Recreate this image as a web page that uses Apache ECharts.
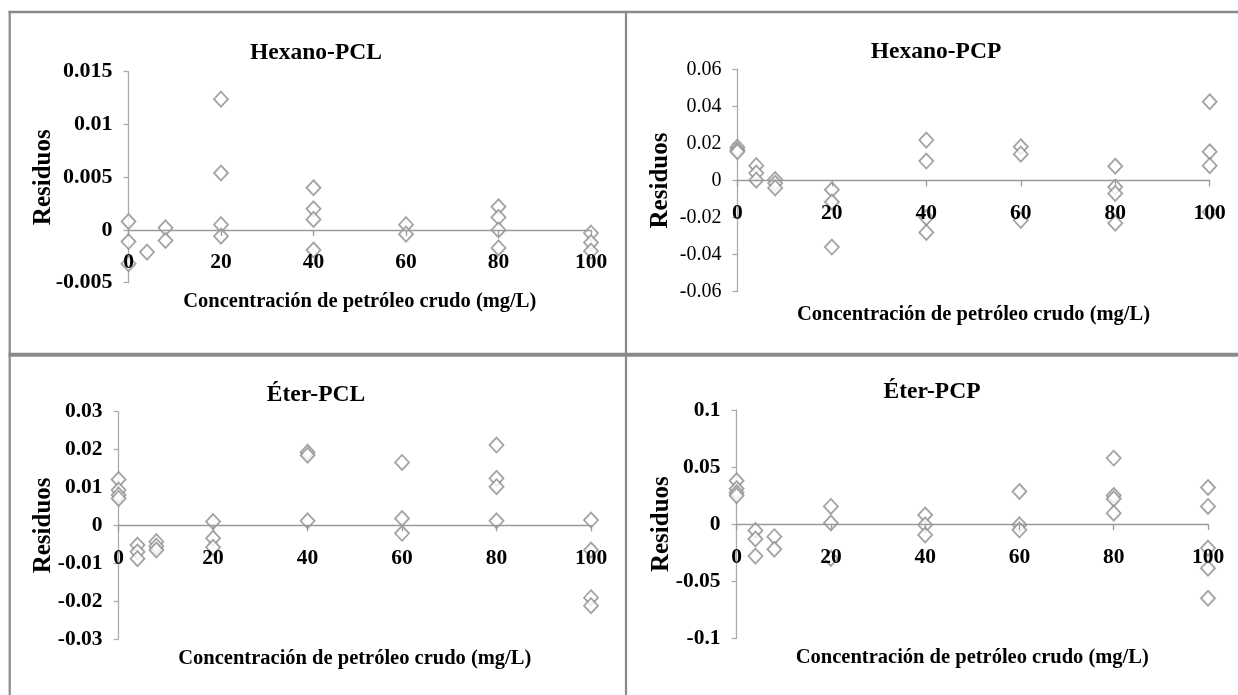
<!DOCTYPE html>
<html>
<head>
<meta charset="utf-8">
<title>Residuos</title>
<script src="https://cdn.jsdelivr.net/npm/echarts@6/dist/echarts.min.js"></script>
<style>
  html, body { margin: 0; padding: 0; background: #fff; }
  #chart { width: 1238px; height: 695px; }
</style>
</head>
<body>
<div id="chart"></div>
<script>
// Residuals [concentration (mg/L), residual] for each extraction / calibration pair
const hexanoPCL = [
  [0, 0.0008], [0, -0.0011], [0, -0.0032],
  [4, -0.0021],
  [8, 0.0002], [8, -0.001],
  [20, 0.0124], [20, 0.0054], [20, 0.0005], [20, -0.0006],
  [40, 0.004], [40, 0.002], [40, 0.001], [40, -0.0019],
  [60, 0.0005], [60, -0.0004],
  [80, 0.0022], [80, 0.0012], [80, 0.0], [80, -0.0017],
  [100, -0.0003], [100, -0.0012], [100, -0.002]
];
const hexanoPCP = [
  [0, 0.018], [0, 0.0165], [0, 0.0155],
  [4, 0.008], [4, 0.004], [4, 0.0002],
  [8, 0.0005], [8, -0.0015], [8, -0.004],
  [20, -0.005], [20, -0.0116], [20, -0.0359],
  [40, 0.0218], [40, 0.0105], [40, -0.02], [40, -0.028],
  [60, 0.0182], [60, 0.0142], [60, -0.0215],
  [80, 0.0077], [80, -0.0035], [80, -0.007], [80, -0.023],
  [100, 0.0425], [100, 0.0155], [100, 0.008], [100, -0.017]
];
const eterPCL = [
  [0, 0.0121], [0, 0.0093], [0, 0.008], [0, 0.0071],
  [4, -0.0052], [4, -0.007], [4, -0.0088],
  [8, -0.0043], [8, -0.0055], [8, -0.0065],
  [20, 0.001], [20, -0.0034], [20, -0.0058],
  [40, 0.0193], [40, 0.0185], [40, 0.0012],
  [60, 0.0166], [60, 0.0018], [60, -0.0021],
  [80, 0.0212], [80, 0.0124], [80, 0.0102], [80, 0.0012],
  [100, 0.0014], [100, -0.0065], [100, -0.0191], [100, -0.0212]
];
const eterPCP = [
  [0, 0.038], [0, 0.031], [0, 0.0275], [0, 0.025],
  [4, -0.0055], [4, -0.013], [4, -0.028],
  [8, -0.011], [8, -0.022],
  [20, 0.0155], [20, 0.001], [20, -0.03],
  [40, 0.008], [40, -0.0006], [40, -0.0094],
  [60, 0.0286], [60, -0.0006], [60, -0.005],
  [80, 0.0579], [80, 0.0251], [80, 0.0222], [80, 0.0096],
  [100, 0.0321], [100, 0.0155], [100, -0.021], [100, -0.0386], [100, -0.0649]
];

const panelTitles = ['Hexano-PCL', 'Hexano-PCP', 'Éter-PCL', 'Éter-PCP'];
const panelData = [hexanoPCL, hexanoPCP, eterPCL, eterPCP];
// y-axis ranges: [min, max, interval]
const yRanges = [[-0.005, 0.015, 0.005], [-0.06, 0.06, 0.02], [-0.03, 0.03, 0.01], [-0.1, 0.1, 0.05]];
const xRange = [0, 100, 20];
const xName = 'Concentración de petróleo crudo (mg/L)';
const yName = 'Residuos';

// Layout and styling of each panel
const FONT = '"Liberation Serif", "Times New Roman", serif';
const layout = [
  { grid: { left: 128.5, top: 71.7, width: 462.5, height: 211 }, title: [316, 53], yLabelSize: 22, yLabelWeight: 'bold', xNameGap: 61, yNameGap: 72.5 },
  { grid: { left: 737.4, top: 69.3, width: 472.3, height: 222.4 }, title: [936, 52], yLabelSize: 20, yLabelWeight: 'normal', xNameGap: 124, yNameGap: 64 },
  { grid: { left: 118.6, top: 411.7, width: 472.4, height: 227.3 }, title: [316, 395], yLabelSize: 21.5, yLabelWeight: 'bold', xNameGap: 122.5, yNameGap: 62.5 },
  { grid: { left: 736.6, top: 410, width: 471.4, height: 228.3 }, title: [932, 391.7], yLabelSize: 21.5, yLabelWeight: 'bold', xNameGap: 123.5, yNameGap: 62.5 }
];

const AXIS_X = '#9a9a9a';
const AXIS_Y = '#ababab';
const FRAME = '#8a8a8a';

const grids = [], xAxes = [], yAxes = [], series = [], titles = [];
layout.forEach((p, i) => {
  const [yMin, yMax, yStep] = yRanges[i];
  // the horizontal axis runs along residual = 0, so lift it from the grid bottom
  const zeroLift = p.grid.height * (0 - yMin) / (yMax - yMin);
  grids.push(Object.assign({ outerBoundsMode: 'none', containLabel: false }, p.grid));
  titles.push({
    text: panelTitles[i],
    left: p.title[0], top: p.title[1],
    textAlign: 'center', textVerticalAlign: 'middle',
    padding: 0,
    textStyle: { fontFamily: FONT, fontSize: 23.5, fontWeight: 'bold', color: '#000' }
  });
  xAxes.push({
    gridIndex: i, type: 'value', position: 'bottom',
    offset: -zeroLift,
    min: xRange[0], max: xRange[1], interval: xRange[2],
    z: 5,
    axisLine: { show: true, onZero: false, lineStyle: { color: AXIS_X, width: 1.3 } },
    axisTick: { show: true, length: 6, lineStyle: { color: AXIS_X, width: 1.3 } },
    axisLabel: { margin: 22, fontFamily: FONT, fontSize: 21.5, fontWeight: 'bold', color: '#000' },
    splitLine: { show: false },
    name: xName, nameLocation: 'middle', nameGap: p.xNameGap, nameMoveOverlap: false,
    nameTextStyle: { fontFamily: FONT, fontSize: 20.5, fontWeight: 'bold', color: '#000' }
  });
  yAxes.push({
    gridIndex: i, type: 'value',
    min: yMin, max: yMax, interval: yStep,
    axisLine: { show: true, onZero: false, lineStyle: { color: AXIS_Y, width: 1.3 } },
    axisTick: { show: true, length: 5, lineStyle: { color: AXIS_Y, width: 1.3 } },
    axisLabel: { margin: 16, fontFamily: FONT, fontSize: p.yLabelSize, fontWeight: p.yLabelWeight, color: '#000' },
    splitLine: { show: false },
    name: yName, nameLocation: 'middle', nameGap: p.yNameGap, nameMoveOverlap: false,
    nameTextStyle: { fontFamily: FONT, fontSize: 25, fontWeight: 'bold', color: '#000' }
  });
  series.push({
    type: 'scatter', name: panelTitles[i],
    xAxisIndex: i, yAxisIndex: i,
    data: panelData[i],
    symbol: 'diamond', symbolSize: [14, 15],
    itemStyle: { color: '#fff', borderColor: '#8c8c8c', borderWidth: 1.8 },
    emphasis: { disabled: true },
    z: 2
  });
});

// Panel frame lines
const frameLine = (x1, y1, x2, y2, w) => ({
  type: 'line', silent: true, z: 10,
  shape: { x1, y1, x2, y2 },
  style: { stroke: FRAME, lineWidth: w }
});

const chart = echarts.init(document.getElementById('chart'), null, { renderer: 'canvas' });
chart.setOption({
  animation: false,
  backgroundColor: '#fff',
  title: titles,
  grid: grids,
  xAxis: xAxes,
  yAxis: yAxes,
  series: series,
  graphic: [
    frameLine(8.5, 12, 1238, 12, 2.4),
    frameLine(9.7, 11, 9.7, 695, 2.2),
    frameLine(626, 11, 626, 695, 2.2),
    frameLine(8.5, 354.7, 1238, 354.7, 4)
  ]
});
</script>
</body>
</html>
